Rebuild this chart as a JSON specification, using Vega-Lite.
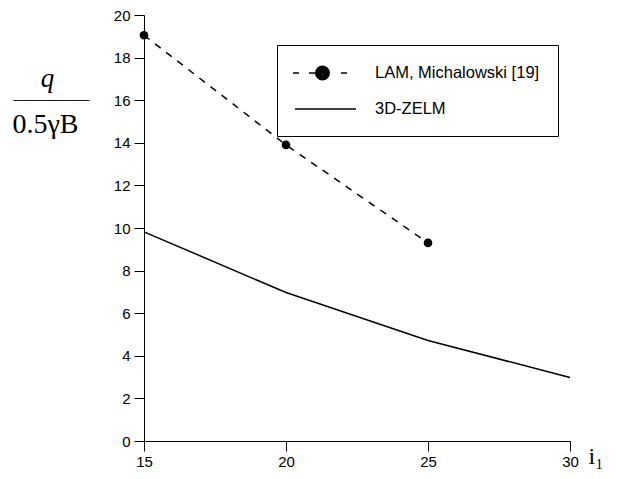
{
  "$schema": "https://vega.github.io/schema/vega-lite/v6.json",
  "width": 426,
  "height": 426,
  "autosize": {"type": "none"},
  "padding": {"left": 144, "top": 15, "right": 53, "bottom": 38},
  "background": "white",
  "config": {
    "view": {"stroke": null},
    "axis": {
      "grid": false,
      "labelFlush": false,
      "domainColor": "black",
      "domainWidth": 1,
      "tickColor": "black",
      "tickWidth": 1,
      "tickSize": 10,
      "labelFont": "Liberation Sans",
      "labelFontSize": 15,
      "labelColor": "black",
      "titleColor": "black",
      "titleFontWeight": "normal"
    }
  },
  "data": {
    "values": [
      {"x": 15, "y": 19.05, "series": "LAM, Michalowski [19]"},
      {"x": 20, "y": 13.9, "series": "LAM, Michalowski [19]"},
      {"x": 25, "y": 9.3, "series": "LAM, Michalowski [19]"},
      {"x": 15, "y": 9.82, "series": "3D-ZELM"},
      {"x": 20, "y": 6.97, "series": "3D-ZELM"},
      {"x": 25, "y": 4.72, "series": "3D-ZELM"},
      {"x": 30, "y": 2.98, "series": "3D-ZELM"}
    ]
  },
  "layer": [
    {
      "transform": [{"filter": "datum.series === 'LAM, Michalowski [19]'"}],
      "mark": {"type": "line", "color": "black", "strokeWidth": 1.5, "strokeDash": [7, 7]},
      "encoding": {
        "x": {
          "field": "x", "type": "quantitative",
          "scale": {"domain": [15, 30], "nice": false, "zero": false},
          "axis": {
            "orient": "bottom",
            "values": [15, 20, 25, 30],
            "labelFlush": false,
            "labelPadding": 3,
            "title": "i₁",
            "titleFont": "Liberation Serif",
            "titleFontSize": 24,
            "titleAlign": "left",
            "titleBaseline": "alphabetic",
            "titleX": 444,
            "titleY": 22
          }
        },
        "y": {
          "field": "y", "type": "quantitative",
          "scale": {"domain": [0, 20], "nice": false},
          "axis": {
            "orient": "left",
            "values": [0, 2, 4, 6, 8, 10, 12, 14, 16, 18, 20],
            "labelFlush": false,
            "labelPadding": 4,
            "title": "0.5γB",
            "titleFont": "Liberation Serif",
            "titleFontSize": 28,
            "titleAngle": 0,
            "titleAlign": "left",
            "titleBaseline": "alphabetic",
            "titleX": -132,
            "titleY": 117
          }
        }
      }
    },
    {
      "transform": [{"filter": "datum.series === 'LAM, Michalowski [19]'"}],
      "mark": {"type": "point", "filled": true, "color": "black", "opacity": 1, "size": 75},
      "encoding": {
        "x": {"field": "x", "type": "quantitative", "scale": {"domain": [15, 30], "nice": false, "zero": false}, "axis": null},
        "y": {
          "field": "y", "type": "quantitative",
          "scale": {"domain": [0, 20], "nice": false},
          "axis": {
            "orient": "right",
            "labels": false, "ticks": false, "domain": false,
            "title": "q",
            "titleFont": "Liberation Serif",
            "titleFontSize": 27,
            "titleFontStyle": "italic",
            "titleAngle": 0,
            "titleAlign": "center",
            "titleBaseline": "alphabetic",
            "titleX": -523,
            "titleY": 71
          }
        }
      }
    },
    {
      "transform": [{"filter": "datum.series === '3D-ZELM'"}],
      "mark": {"type": "line", "color": "black", "strokeWidth": 1.5},
      "encoding": {
        "x": {
          "field": "x", "type": "quantitative",
          "scale": {"domain": [15, 30], "nice": false, "zero": false},
          "axis": {
            "orient": "top",
            "labels": false, "ticks": false, "domain": false,
            "title": "────────────",
            "titleFont": "DejaVu Sans Mono",
            "titleFontSize": 10.5,
            "titleAlign": "center",
            "titleBaseline": "alphabetic",
            "titleX": -93,
            "titleY": 88.6
          }
        },
        "y": {"field": "y", "type": "quantitative", "scale": {"domain": [0, 20], "nice": false}, "axis": null}
      }
    },
    {
      "mark": {"type": "point", "filled": false, "opacity": 0, "color": "black", "strokeWidth": 1.5},
      "encoding": {
        "x": {"field": "x", "type": "quantitative", "scale": {"domain": [15, 30], "nice": false, "zero": false}, "axis": null},
        "y": {"field": "y", "type": "quantitative", "scale": {"domain": [0, 20], "nice": false}, "axis": null},
        "shape": {
          "field": "series", "type": "nominal",
          "scale": {
            "domain": ["LAM, Michalowski [19]", "3D-ZELM"],
            "range": [
              "M-1.33,0L-0.67,0M0.44,0L1.11,0M4.0,0L4.67,0M1.19,0A0.75,0.75 0 1 1 2.69,0A0.75,0.75 0 1 1 1.19,0M1.36,0A0.58,0.58 0 1 1 2.52,0A0.58,0.58 0 1 1 1.36,0M1.52,0A0.42,0.42 0 1 1 2.36,0A0.42,0.42 0 1 1 1.52,0M1.69,0A0.25,0.25 0 1 1 2.19,0A0.25,0.25 0 1 1 1.69,0M1.86,0A0.08,0.08 0 1 1 2.02,0A0.08,0.08 0 1 1 1.86,0",
              "M-1.11,0L5.67,0"
            ]
          },
          "legend": {
            "title": null,
            "orient": "none",
            "legendX": 133,
            "legendY": 30,
            "strokeColor": "black",
            "fillColor": "white",
            "padding": 18,
            "labelFont": "Liberation Sans",
            "labelFontSize": 16.5,
            "labelColor": "black",
            "labelOffset": 60,
            "rowPadding": 16,
            "symbolSize": 324,
            "symbolStrokeWidth": 1.5,
            "symbolStrokeColor": "black",
            "symbolOpacity": 1,
            "labelLimit": 400,
            "encode": {"symbols": {"update": {
              "opacity": {"value": 1},
              "stroke": {"value": "black"},
              "strokeOpacity": {"value": 1},
              "strokeWidth": {"value": 1.5}
            }}}
          }
        }
      }
    }
  ],
  "resolve": {
    "scale": {"x": "independent", "y": "independent", "shape": "independent"},
    "axis": {"x": "independent", "y": "independent"}
  }
}
